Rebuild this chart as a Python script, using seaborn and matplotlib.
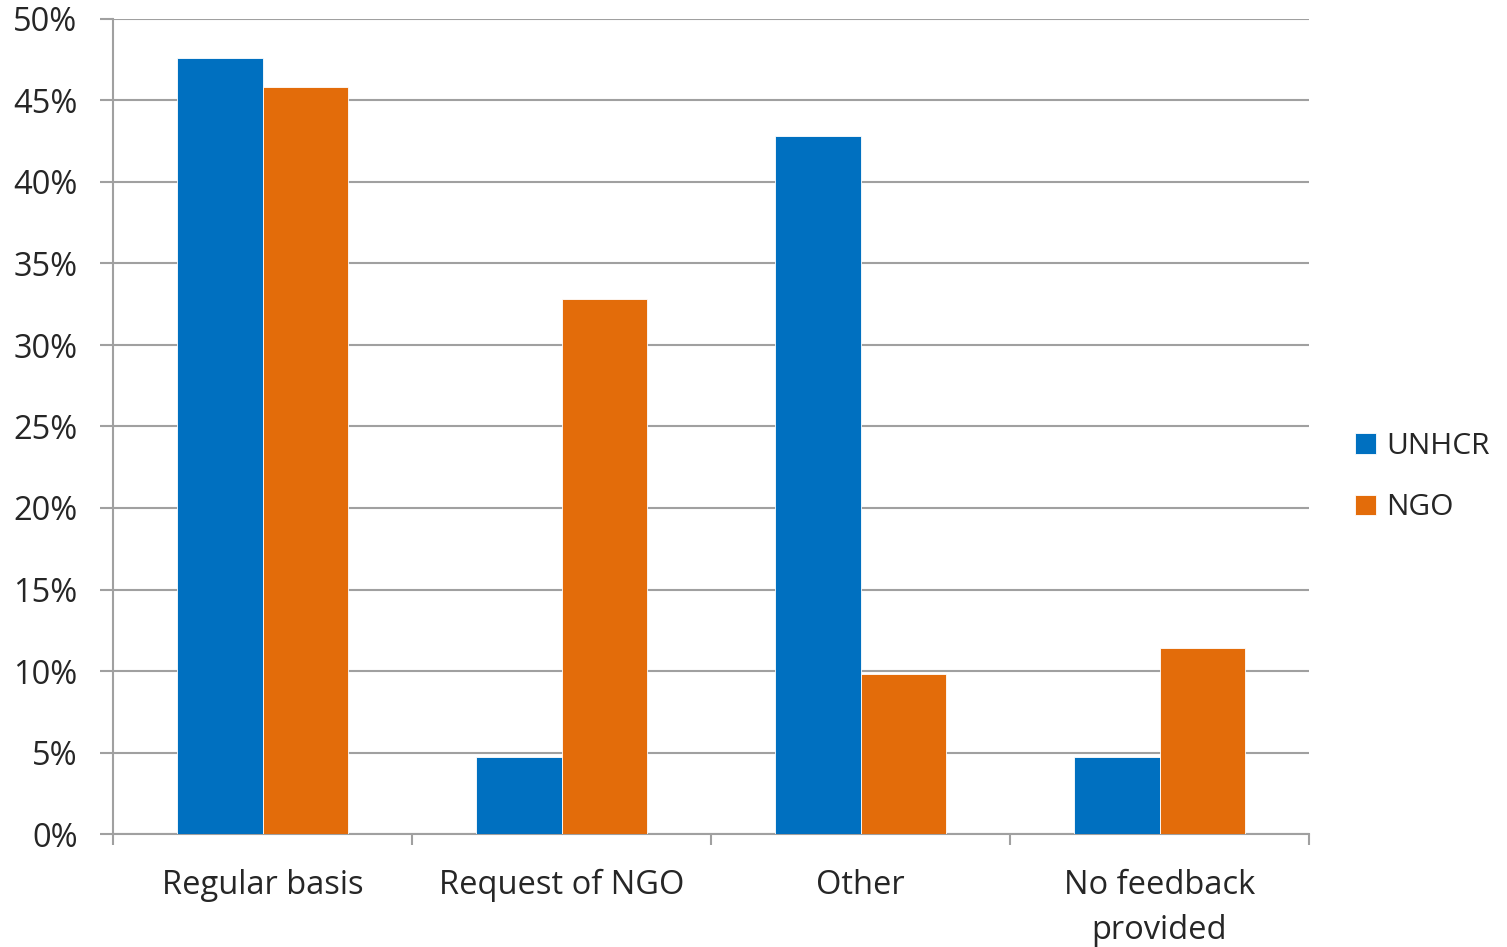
import matplotlib
matplotlib.use("Agg")
import matplotlib.pyplot as plt
import matplotlib.ticker as mticker
import pandas as pd
import seaborn as sns

categories = ["Regular basis", "Request of NGO", "Other", "No feedback\nprovided"]
unhcr = [47.6, 4.7, 42.8, 4.7]
ngo = [45.8, 32.8, 9.8, 11.4]
series = ["UNHCR", "NGO"]
colors = ["#0070C0", "#E36C0A"]

df = pd.DataFrame({
    "category": categories * 2,
    "value": unhcr + ngo,
    "series": ["UNHCR"] * len(categories) + ["NGO"] * len(categories),
})

sns.set_style("white")
plt.rcParams["font.family"] = ["Open Sans", "DejaVu Sans"]

fig = plt.figure(figsize=(15.07, 9.47), dpi=100)
ax = fig.add_axes([113 / 1507, 1 - 834 / 947, (1309 - 113) / 1507, (834 - 19) / 947])

sns.barplot(data=df, x="category", y="value", hue="series", hue_order=series,
            palette=colors, width=0.57, edgecolor="white", linewidth=0.6,
            saturation=1, ax=ax, zorder=3)

grey = "#A0A0A0"
fs = 23.5
ax.set_ylim(0, 50)
ax.set_xlim(-0.5, len(categories) - 0.5)
ax.yaxis.set_major_locator(mticker.MultipleLocator(5))
ax.yaxis.set_major_formatter(mticker.FuncFormatter(lambda v, _: f"{v:.0f}%"))
ax.yaxis.grid(True, color=grey, linewidth=1.5, zorder=0)
ax.set_axisbelow(True)

# category boundaries get the tick marks, labels sit in between
ax.set_xticks([i - 0.5 for i in range(len(categories) + 1)], minor=True)
ax.tick_params(axis="x", which="major", bottom=True, length=0, pad=25, labelsize=fs)
ax.tick_params(axis="x", which="minor", bottom=True, length=8, width=1.5,
               color=grey, direction="out")
ax.tick_params(axis="y", left=True, length=9.5, width=1.5, color=grey,
               direction="out", pad=16, labelsize=fs)
for lbl in ax.get_xticklabels():
    lbl.set_linespacing(1.5)

for s in ["top", "right"]:
    ax.spines[s].set_visible(False)
for s in ["left", "bottom"]:
    ax.spines[s].set_color(grey)
    ax.spines[s].set_linewidth(1.5)

ax.set_xlabel("")
ax.set_ylabel("")

ax.legend(title=None, frameon=False, fontsize=21.5, loc="center left",
          bbox_to_anchor=(1355 / 1507, 1 - 477 / 947), bbox_transform=fig.transFigure,
          handlelength=0.7, handleheight=0.7, handletextpad=0.35, labelspacing=1.1,
          borderaxespad=0, borderpad=0)

fig.savefig("out.png", dpi=100)
